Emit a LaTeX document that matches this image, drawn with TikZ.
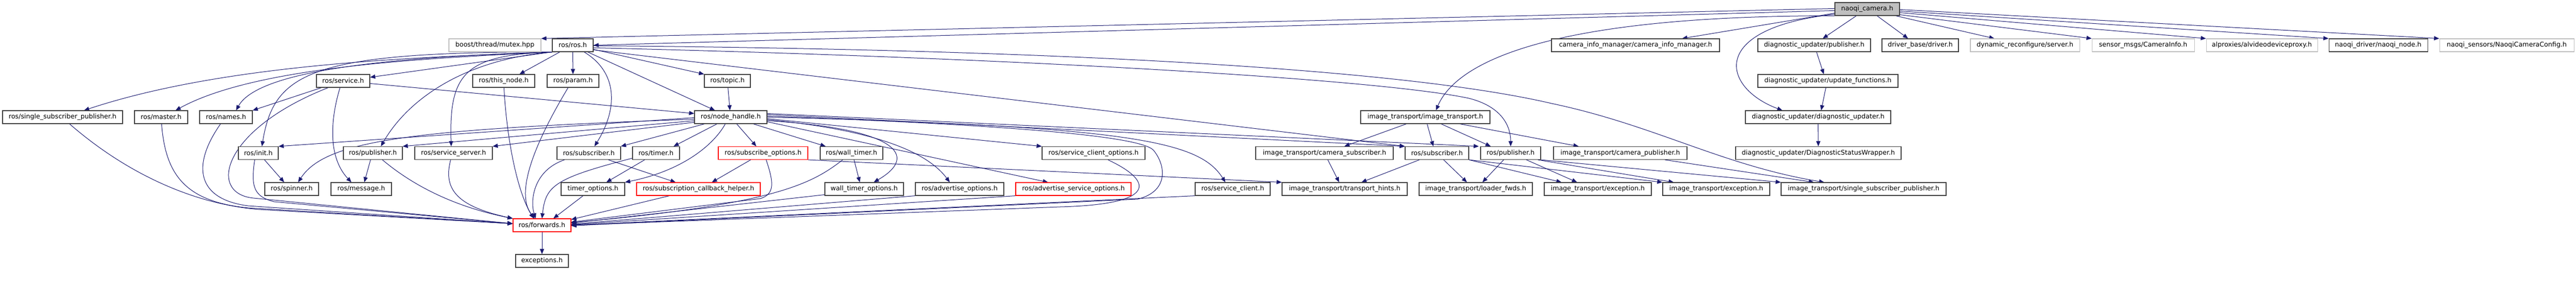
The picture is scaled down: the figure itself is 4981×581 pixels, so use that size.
\documentclass[tikz,border=0pt]{standalone}
\usepackage{fontspec}
\setmainfont{DejaVu Sans}
\usetikzlibrary{arrows.meta}
\pgfdeclarelayer{bg}
\pgfsetlayers{bg,main}
\definecolor{edgeblue}{RGB}{25,25,112}
\definecolor{lightborder}{RGB}{191,191,191}
\definecolor{darkborder}{RGB}{64,64,64}
\definecolor{mainfill}{RGB}{191,191,191}
\begin{document}
\begin{tikzpicture}[x=1pt,y=-1pt,
  base/.style={rectangle,inner sep=0pt,minimum height=25pt,line width=1.1pt,fill=white,font=\fontsize{12.6}{15}\selectfont},
  box/.style={base,draw=darkborder},
  gbox/.style={base,draw=lightborder},
  rbox/.style={base,draw=red},
  cbox/.style={base,draw=darkborder,fill=mainfill},
  edge/.style={draw=edgeblue,line width=1pt,-{Triangle[length=10pt,width=8pt]}}]
\useasboundingbox (0,0) rectangle (4981,581);
% row 0
\node[cbox,minimum width=125pt] (nc) at (3610.5,17.5) {naoqi\_camera.h};
% row 1
\node[gbox,minimum width=178pt] (boost) at (957,87.5) {boost/thread/mutex.hpp};
\node[box,minimum width=79pt] (ros) at (1107.5,87.5) {ros/ros.h};
\node[box,minimum width=325pt] (cim) at (3162.5,87.5) {camera\_info\_manager/camera\_info\_manager.h};
\node[box,minimum width=218pt] (dpub) at (3508,87.5) {diagnostic\_updater/publisher.h};
\node[box,minimum width=148pt] (drv) at (3713,87.5) {driver\_base/driver.h};
\node[gbox,minimum width=211pt] (dyn) at (3915.5,87.5) {dynamic\_reconfigure/server.h};
\node[gbox,minimum width=198pt] (smsg) at (4144,87.5) {sensor\_msgs/CameraInfo.h};
\node[gbox,minimum width=215pt] (alp) at (4373.5,87.5) {alproxies/alvideodeviceproxy.h};
\node[box,minimum width=191pt] (nnode) at (4598.5,87.5) {naoqi\_driver/naoqi\_node.h};
\node[gbox,minimum width=260pt] (nsens) at (4847,87.5) {naoqi\_sensors/NaoqiCameraConfig.h};
% row 2
\node[box,minimum width=103pt] (srv) at (663.5,156.5) {ros/service.h};
\node[box,minimum width=120pt] (thn) at (974,156.5) {ros/this\_node.h};
\node[box,minimum width=100pt] (prm) at (1108,156.5) {ros/param.h};
\node[box,minimum width=89pt] (top) at (1406.5,156.5) {ros/topic.h};
\node[box,minimum width=271pt] (duf) at (3534.5,156.5) {diagnostic\_updater/update\_functions.h};
% row 3
\node[box,minimum width=232pt] (ssp) at (121,226.5) {ros/single\_subscriber\_publisher.h};
\node[box,minimum width=103pt] (mst) at (311.5,226.5) {ros/master.h};
\node[box,minimum width=102pt] (nam) at (437,226.5) {ros/names.h};
\node[box,minimum width=140pt] (nh) at (1413,226.5) {ros/node\_handle.h};
\node[box,minimum width=250pt] (it) at (2756,226.5) {image\_transport/image\_transport.h};
\node[box,minimum width=281pt] (dup) at (3515.5,226.5) {diagnostic\_updater/diagnostic\_updater.h};
% row 4
\node[box,minimum width=77pt] (ini) at (499.5,296) {ros/init.h};
\node[box,minimum width=114pt] (pub) at (721,296) {ros/publisher.h};
\node[box,minimum width=150pt] (ssrv) at (877,296) {ros/service\_server.h};
\node[box,minimum width=123pt] (sub) at (1138.5,296) {ros/subscriber.h};
\node[box,minimum width=91pt] (tmr) at (1268.5,296) {ros/timer.h};
\node[rbox,minimum width=173pt] (sop) at (1475.5,296) {ros/subscribe\_options.h};
\node[box,minimum width=121pt] (wtm) at (1646.5,296) {ros/wall\_timer.h};
\node[box,minimum width=199pt] (sco) at (2114.5,296) {ros/service\_client\_options.h};
\node[box,minimum width=266pt] (csub) at (2561,296) {image\_transport/camera\_subscriber.h};
\node[box,minimum width=123pt] (sub2) at (2778.5,296) {ros/subscriber.h};
\node[box,minimum width=116pt] (pub2) at (2921,296) {ros/publisher.h};
\node[box,minimum width=258pt] (cpub) at (3133,296) {image\_transport/camera\_publisher.h};
\node[box,minimum width=320pt] (dsw) at (3516,296) {diagnostic\_updater/DiagnosticStatusWrapper.h};
% row 5
\node[box,minimum width=104pt] (spn) at (564,365.5) {ros/spinner.h};
\node[box,minimum width=117pt] (msg) at (698.5,365.5) {ros/message.h};
\node[box,minimum width=123pt] (tmo) at (1146.5,365.5) {timer\_options.h};
\node[rbox,minimum width=239pt] (sch) at (1350.5,365.5) {ros/subscription\_callback\_helper.h};
\node[box,minimum width=152pt] (wto) at (1671,365.5) {wall\_timer\_options.h};
\node[box,minimum width=171pt] (ado) at (1855.5,365.5) {ros/advertise\_options.h};
\node[rbox,minimum width=223pt] (aso) at (2075.5,365.5) {ros/advertise\_service\_options.h};
\node[box,minimum width=145pt] (scl) at (2383.5,365.5) {ros/service\_client.h};
\node[box,minimum width=242pt] (th) at (2600,365.5) {image\_transport/transport\_hints.h};
\node[box,minimum width=219pt] (lf) at (2853.5,365.5) {image\_transport/loader\_fwds.h};
\node[box,minimum width=207pt] (ex1) at (3089.5,365.5) {image\_transport/exception.h};
\node[box,minimum width=207pt] (ex2) at (3318.5,365.5) {image\_transport/exception.h};
\node[box,minimum width=319pt] (issp) at (3603.5,365.5) {image\_transport/single\_subscriber\_publisher.h};
% rows 6-7
\node[rbox,minimum width=112pt] (fwd) at (1048,435.5) {ros/forwards.h};
\node[box,minimum width=102pt] (exc) at (1048,504.5) {exceptions.h};

\begin{pgfonlayer}{bg}
\fill[white] (0,0) rectangle (4981,581);
% naoqi_camera.h
\draw[edge] ([yshift=-12pt]nc.north west) -- (boost.north east);
\draw[edge] ([yshift=-16pt]nc.north west) -- (ros.east);
\draw[edge] ([yshift=-21pt]nc.north west) -- ([xshift=253pt]cim.north west);
\draw[edge] (nc.south west) .. controls (2950,30) and (2810,135) .. ([xshift=146pt]it.north west);
\draw[edge] ([yshift=-23pt]nc.north west) .. controls (3300,55) and (3330,170) .. ([xshift=72pt]dup.north west);
\draw[edge] ([xshift=42pt]nc.south west) -- ([xshift=126pt]dpub.north west);
\draw[edge] ([xshift=82pt]nc.south west) -- ([xshift=51pt]drv.north west);
\draw[edge] ([xshift=118pt]nc.south west) -- ([xshift=47pt]dyn.north west);
\draw[edge] ([yshift=-24pt]nc.north east) -- (smsg.north west);
\draw[edge] ([yshift=-20pt]nc.north east) -- (alp.north west);
\draw[edge] ([yshift=-17pt]nc.north east) -- (nnode.north west);
\draw[edge] ([yshift=-14pt]nc.north east) -- (nsens.north west);
% ros/ros.h
\draw[edge] (ros.south west) .. controls (850,110) and (450,118) .. ([xshift=158pt]ssp.north west);
\draw[edge] (ros.south west) .. controls (850,112) and (500,125) .. ([xshift=80pt]mst.north west);
\draw[edge] (ros.south west) .. controls (760,110) and (500,135) .. ([xshift=71pt]nam.north west);
\draw[edge] (ros.south west) .. controls (600,100) and (530,140) .. ([xshift=46pt]ini.north west);
\draw[edge] (ros.south west) -- ([yshift=-6pt]srv.north east);
\draw[edge] (ros.south west) .. controls (900,115) and (790,190) .. ([xshift=73pt]pub.north west);
\draw[edge] ([xshift=7pt]ros.south west) .. controls (900,105) and (868,140) .. ([xshift=71pt]ssrv.north west);
\draw[edge] ([xshift=15pt]ros.south west) -- ([xshift=91pt]thn.north west);
\draw[edge] (ros) -- (prm);
\draw[edge] ([xshift=62pt]ros.south west) .. controls (1195,140) and (1195,210) .. ([xshift=73pt]sub.north west);
\draw[edge] ([yshift=-21pt]ros.north east) -- (top.north west);
\draw[edge] ([xshift=69pt]ros.south west) -- ([xshift=40pt]nh.north west);
\draw[edge] ([yshift=-14pt]ros.north east) .. controls (2000,95) and (2700,130) .. (3000,200) .. controls (3200,242) and (3330,320) .. ([xshift=84pt]issp.north west);
\draw[edge] ([yshift=-18pt]ros.north east) .. controls (1900,110) and (2650,150) .. (2840,190) .. controls (2900,205) and (2921,240) .. (pub2.north);
\draw[edge] ([yshift=-22pt]ros.north east) -- (sub2.north west);
% ros/service.h
\draw[edge] ([xshift=10pt]srv.south west) -- (nam.north east);
\draw[edge] ([yshift=-18pt]srv.north east) -- ([yshift=-6pt]nh.north west);
\draw[edge] ([xshift=46pt]srv.south west) .. controls (642,220) and (630,300) .. ([xshift=40pt]msg.north west);
\draw[edge] ([xshift=23pt]srv.south west) .. controls (430,250) and (400,374) .. (490,383) -- ([yshift=-10pt]fwd.north west);
% left group to forwards
\draw[edge] ([xshift=130pt]ssp.south west) .. controls (250,340) and (380,395) .. (500,405) -- ([yshift=-10pt]fwd.north west);
\draw[edge] ([xshift=53pt]mst.south west) .. controls (320,340) and (360,390) .. (480,402) -- ([yshift=-10pt]fwd.north west);
\draw[edge] ([xshift=41pt]nam.south west) .. controls (370,320) and (380,385) .. (480,398) -- ([yshift=-10pt]fwd.north west);
\draw[edge] ([xshift=32pt]ini.south west) .. controls (485,360) and (490,380) .. (530,390) -- ([yshift=-10pt]fwd.north west);
\draw[edge] ([xshift=51pt]ini.south west) -- ([xshift=38pt]spn.north west);
\draw[edge] ([xshift=53pt]pub.south west) -- ([xshift=65pt]msg.north west);
\draw[edge] ([xshift=76pt]pub.south west) .. controls (800,360) and (880,400) .. (fwd.north west);
\draw[edge] ([xshift=70pt]ssrv.south west) .. controls (855,370) and (890,400) .. (fwd.north west);
\draw[edge] ([xshift=61pt]thn.south west) .. controls (980,270) and (1000,370) .. ([xshift=-16pt]fwd.north);
\draw[edge] ([xshift=41pt]prm.south west) .. controls (1020,300) and (1000,380) .. ([xshift=-14pt]fwd.north);
\draw[edge] (top) -- ([xshift=69pt]nh.north west);
% ros/node_handle.h
\draw[edge] ([yshift=-14pt]nh.north west) -- (ini.north east);
\draw[edge] ([yshift=-17pt]nh.north west) .. controls (800,250) and (630,270) .. ([xshift=65pt]spn.north west);
\draw[edge] ([yshift=-20pt]nh.north west) -- (pub.north east);
\draw[edge] ([yshift=-23pt]nh.north west) -- (ssrv.north east);
\draw[edge] ([xshift=20pt]nh.south west) -- (sub.north east);
\draw[edge] ([xshift=44pt]nh.south west) -- ([xshift=80pt]tmr.north west);
\draw[edge] ([xshift=60pt]nh.south west) .. controls (1380,280) and (1320,330) .. (tmo.north east);
\draw[edge] ([xshift=82pt]nh.south west) -- ([xshift=74pt]sop.north west);
\draw[edge] ([xshift=114pt]nh.south west) -- ([xshift=11pt]wtm.north west);
\draw[edge] ([yshift=-20pt]nh.north east) .. controls (1730,248) and (1780,300) .. ([xshift=95pt]wto.north west);
\draw[edge] ([yshift=-18pt]nh.north east) .. controls (1680,250) and (1790,290) .. ([xshift=67pt]ado.north west);
\draw[edge] ([yshift=-22pt]nh.north east) -- ([xshift=63pt]aso.north west);
\draw[edge] ([yshift=-16pt]nh.north east) -- (sco.north west);
\draw[edge] ([yshift=-13pt]nh.north east) .. controls (2200,245) and (2320,275) .. ([xshift=59pt]scl.north west);
\draw[edge] ([yshift=-11pt]nh.north east) .. controls (1900,240) and (2200,260) .. (2230,290) .. controls (2255,320) and (2260,370) .. (2200,385) -- ([yshift=-14pt]fwd.north east);
\draw[edge] ([yshift=-8pt]nh.north east) -- (sub2.north west);
\draw[edge] ([yshift=-6pt]nh.north east) -- ([xshift=-3pt]pub2.north west);
% middle group
\draw[edge] ([xshift=15pt]sub.south west) .. controls (1030,330) and (1025,390) .. ([xshift=-12pt]fwd.north);
\draw[edge] ([xshift=100pt]sub.south west) -- ([xshift=76pt]sch.north west);
\draw[edge] ([xshift=24pt]tmr.south west) -- ([xshift=88pt]tmo.north west);
\draw[edge] ([yshift=-23pt]tmr.north west) .. controls (1070,345) and (1055,360) .. (fwd.north);
\draw[edge] ([xshift=43pt]tmo.south west) -- ([xshift=22pt]fwd.north);
\draw[edge] ([xshift=64pt]sch.south west) -- ([yshift=-2pt]fwd.north east);
\draw[edge] ([xshift=63pt]sop.south west) -- ([xshift=146pt]sch.north west);
\draw[edge] ([xshift=93pt]sop.south west) .. controls (1495,350) and (1500,375) .. (1470,384) -- ([yshift=-7pt]fwd.north east);
\draw[edge] (sop.south east) -- (th.north west);
\draw[edge] ([xshift=66pt]wtm.south west) -- ([xshift=68pt]wto.north west);
\draw[edge] ([xshift=44pt]wtm.south west) .. controls (1570,355) and (1500,395) .. ([yshift=-8pt]fwd.north east);
\draw[edge] ([yshift=-24pt]wto.north west) -- ([yshift=-9pt]fwd.north east);
\draw[edge] (ado.south west) -- ([yshift=-11pt]fwd.north east);
\draw[edge] (aso.south west) -- ([yshift=-12pt]fwd.north east);
\draw[edge] ([xshift=128pt]sco.south west) .. controls (2230,350) and (2240,395) .. (2050,400) -- ([yshift=-13pt]fwd.north east);
\draw[edge] (scl.south west) -- ([yshift=-13pt]fwd.north east);
% image_transport
\draw[edge] ([xshift=89pt]it.south west) -- ([xshift=172pt]csub.north west);
\draw[edge] ([xshift=129pt]it.south west) -- ([xshift=55pt]sub2.north west);
\draw[edge] ([xshift=156pt]it.south west) -- ([xshift=20pt]pub2.north west);
\draw[edge] ([xshift=192pt]it.south west) -- ([xshift=49pt]cpub.north west);
\draw[edge] ([xshift=140pt]csub.south west) -- ([xshift=111pt]th.north west);
\draw[edge] ([xshift=28pt]sub2.south west) -- ([xshift=154pt]th.north west);
\draw[edge] ([xshift=75pt]sub2.south west) -- ([xshift=93pt]lf.north west);
\draw[edge] (sub2.south east) -- ([xshift=34pt]ex1.north west);
\draw[edge] (sub2.south east) -- (ex2.north west);
\draw[edge] ([xshift=45pt]pub2.south west) -- ([xshift=123pt]lf.north west);
\draw[edge] ([xshift=89pt]pub2.south west) -- ([xshift=64pt]ex1.north west);
\draw[edge] ([xshift=-6pt]pub2.south east) -- ([xshift=22pt]ex2.north west);
\draw[edge] (pub2.south east) -- (issp.north west);
\draw[edge] ([xshift=216pt]cpub.south west) -- ([xshift=64pt]issp.north west);
% diagnostic_updater
\draw[edge] ([xshift=114pt]dpub.south west) -- ([xshift=128pt]duf.north west);
\draw[edge] ([xshift=132pt]duf.south west) -- ([xshift=147pt]dup.north west);
\draw[edge] (dup) -- (dsw);
\draw[edge] (fwd) -- (exc);
\end{pgfonlayer}
\end{tikzpicture}
\end{document}
